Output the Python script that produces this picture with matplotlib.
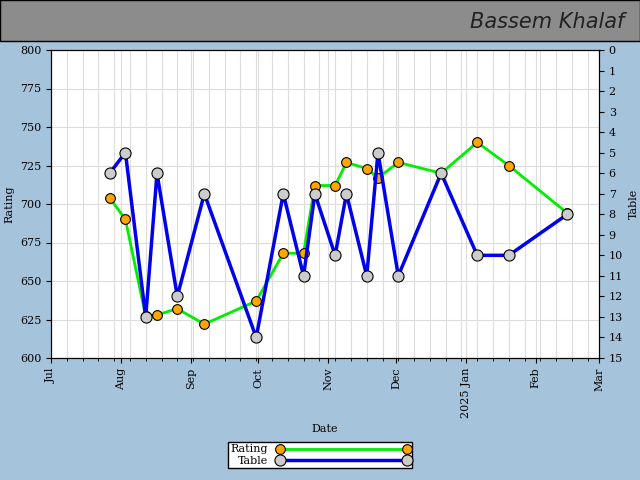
import matplotlib
matplotlib.use("Agg")
import matplotlib.pyplot as plt
import matplotlib.dates as mdates
import numpy as np
import datetime as dt

dates = ["2024-07-27", "2024-08-03", "2024-08-12", "2024-08-17", "2024-08-26", "2024-09-07",
         "2024-09-30", "2024-10-12", "2024-10-21", "2024-10-26", "2024-11-04", "2024-11-09",
         "2024-11-18", "2024-11-23", "2024-12-02", "2024-12-21", "2025-01-06", "2025-01-20",
         "2025-02-15"]
rating = [704, 690, 627, 628, 632, 622, 637, 668, 668, 712, 712, 727, 723, 717, 727, 720, 740, 725, 694]
table = [6, 5, 13, 6, 12, 7, 14, 7, 11, 7, 10, 7, 11, 5, 11, 6, 10, 10, 8]
month_labels = ["Jul", "Aug", "Sep", "Oct", "Nov", "Dec", "2025 Jan", "Feb", "Mar"]

x = [dt.datetime.strptime(d, "%Y-%m-%d") for d in dates]
plt.rcParams["font.family"] = "DejaVu Serif"
plt.rcParams["font.size"] = 8

fig = plt.figure(figsize=(6.4, 4.8), dpi=100, facecolor="#a6c3dc")
fig.patches.append(plt.Rectangle((0, 1 - 41 / 480), 1, 41 / 480, transform=fig.transFigure,
                                 facecolor="#8c8c8c", edgecolor="black", lw=1))
fig.text(0.975, 1 - 22 / 480, "Bassem Khalaf", ha="right", va="center", fontsize=15,
         family="DejaVu Sans", style="italic", color="#222222")

ax = fig.add_axes([51 / 640, 1 - 358 / 480, 548 / 640, 308 / 480])
ax.set_facecolor("white")
ax.plot(x, rating, color="#00ee00", lw=2, marker="o", ms=7, mfc="orange", mec="black", mew=0.8,
        label="Rating", zorder=3)
ax.set_ylim(600, 800)
ax.set_yticks(np.arange(600, 801, 25))
ax.set_xlim(dt.datetime(2024, 7, 1), dt.datetime(2025, 3, 1))
ax.set_xticks([dt.datetime(2024 + (m > 12), (m - 1) % 12 + 1, 1) for m in range(7, 16)])
ax.set_xticklabels(month_labels, rotation=90)
ax.xaxis.set_minor_locator(mdates.WeekdayLocator(byweekday=mdates.MO))
ax.grid(True, which="both", color="#dddddd", lw=0.8)
ax.set_axisbelow(True)
ax.set_xlabel("Date")
ax.set_ylabel("Rating")

ax2 = ax.twinx()
ax2.plot(x, table, color="#0000ee", lw=2.5, marker="o", ms=8, mfc="#cccccc", mec="black", mew=0.8,
         label="Table", zorder=3)
ax2.set_ylim(15, 0)
ax2.set_yticks(range(0, 16))
ax2.set_ylabel("Table")

h1, l1 = ax.get_legend_handles_labels()
h2, l2 = ax2.get_legend_handles_labels()
fig.legend(h1 + h2, l1 + l2, loc="center", bbox_to_anchor=(320 / 640, 1 - 455 / 480),
           fancybox=False, edgecolor="black", framealpha=1, handlelength=12, numpoints=2,
           borderpad=0.2, labelspacing=0.1, markerfirst=False)

fig.savefig("out.png", dpi=100, facecolor=fig.get_facecolor())
